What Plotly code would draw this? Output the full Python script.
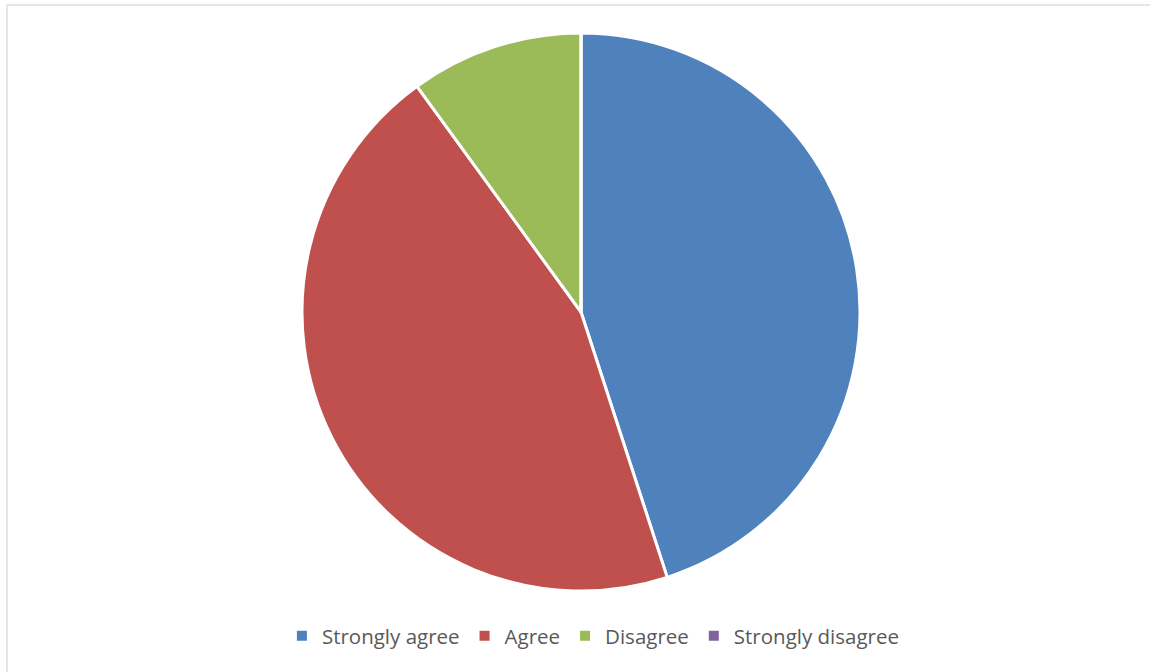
import plotly.graph_objects as go

# Survey responses
labels = ["Strongly agree", "Agree", "Disagree", "Strongly disagree"]
values = [9, 9, 2, 0]
colors = ["#4F81BD", "#C0504D", "#9BBB59", "#8064A2"]

W, H = 1150, 672
cx, cy, r = 581, 312, 279

fig = go.Figure(
    go.Pie(
        labels=labels,
        values=values,
        sort=False,
        direction="clockwise",
        rotation=0,
        textinfo="none",
        hoverinfo="label+percent",
        marker=dict(colors=colors, line=dict(color="white", width=3)),
        domain=dict(
            x=[(cx - r) / W, (cx + r) / W],
            y=[1 - (cy + r) / H, 1 - (cy - r) / H],
        ),
    )
)

fig.update_layout(
    width=W,
    height=H,
    margin=dict(l=0, r=0, t=0, b=0),
    paper_bgcolor="white",
    plot_bgcolor="white",
    font=dict(family="Open Sans", size=20.5, color="#595959"),
    showlegend=True,
    legend=dict(
        orientation="h",
        x=0.516,
        xanchor="center",
        y=1 - 636 / H,
        yanchor="middle",
        font=dict(size=20.5, color="#595959"),
        itemclick=False,
        itemsizing="constant",
    ),
    shapes=[
        dict(type="line", xref="paper", yref="paper",
             x0=7 / W, x1=1, y0=1 - 5 / H, y1=1 - 5 / H,
             line=dict(color="#E6E6E6", width=2)),
        dict(type="line", xref="paper", yref="paper",
             x0=7 / W, x1=7 / W, y0=0, y1=1 - 5 / H,
             line=dict(color="#E6E6E6", width=2)),
    ],
)

fig.write_html("out.html")
